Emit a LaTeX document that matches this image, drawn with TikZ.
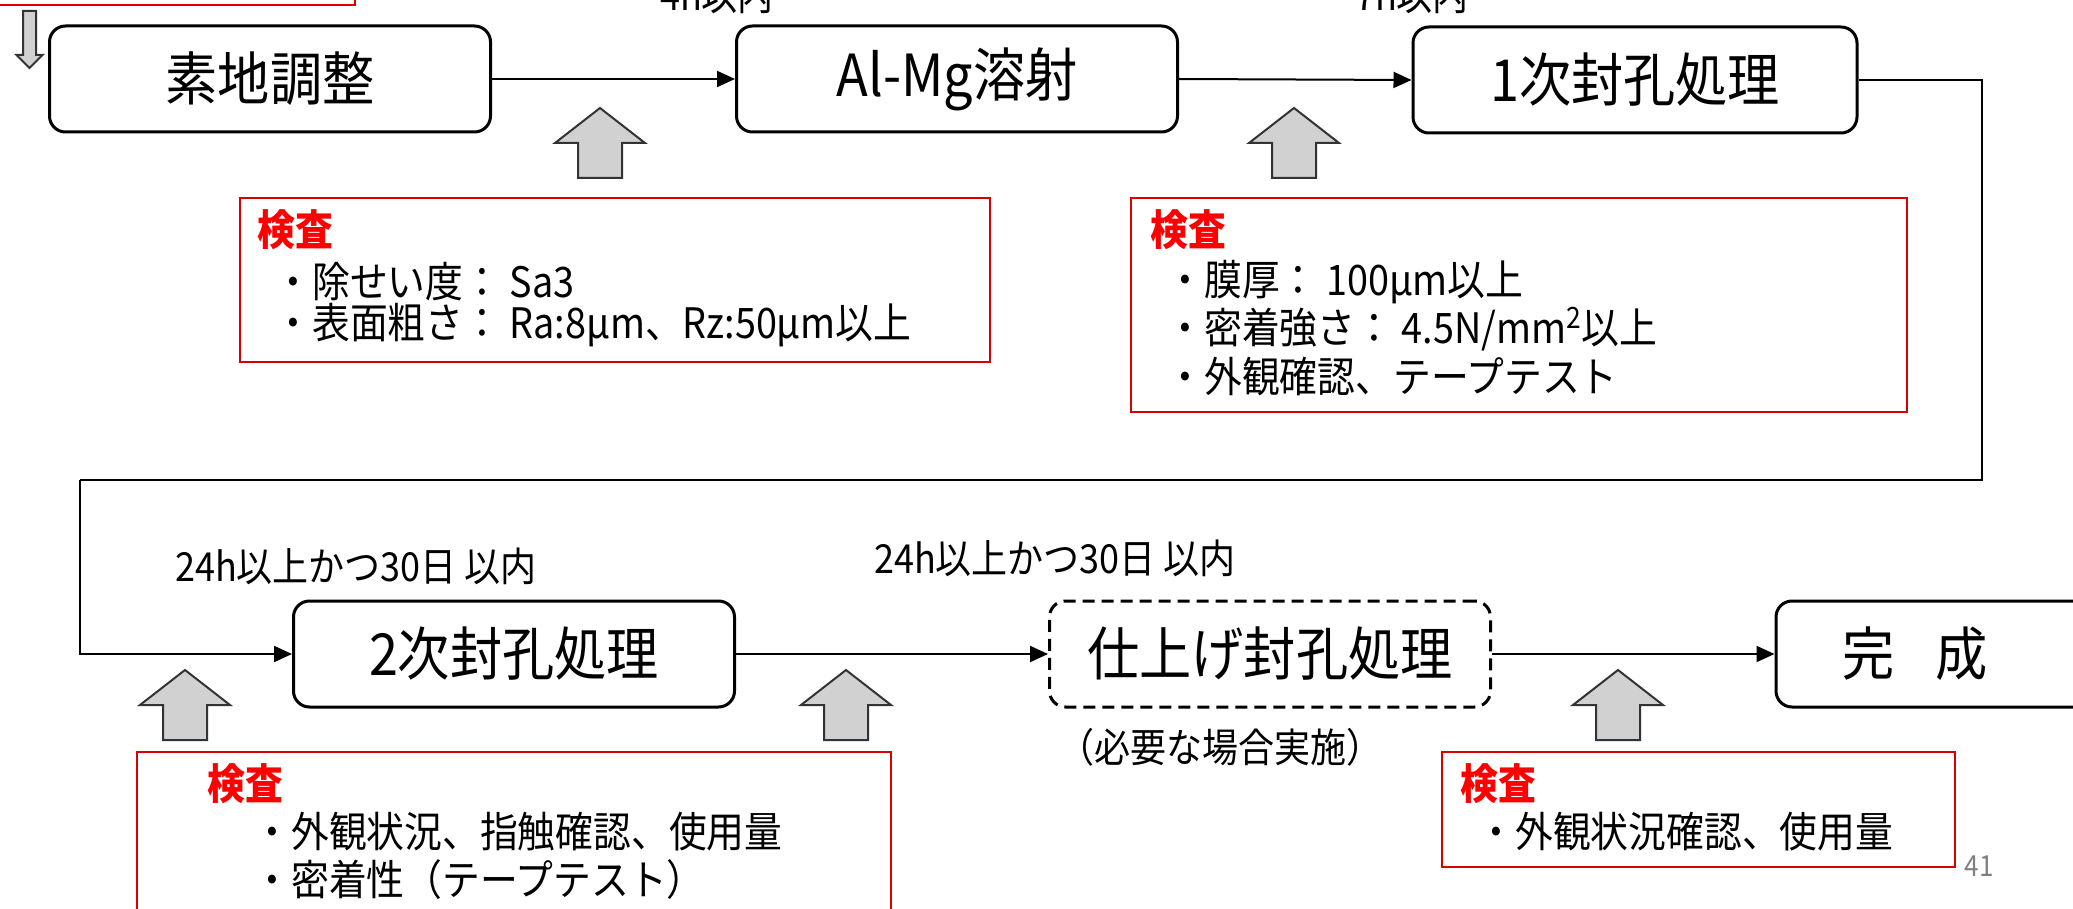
\documentclass[tikz,border=0pt]{standalone}
\usepackage{fontspec}
\setmainfont{Noto Sans CJK JP}[FakeStretch=0.9]
\usetikzlibrary{arrows.meta}
\tikzset{
  procbox/.style={draw, line width=1.5pt, rounded corners=8pt, minimum width=220.5pt, minimum height=53pt, font=\fontsize{29}{33}\selectfont, inner sep=0pt},
  dashbox/.style={procbox, dash pattern=on 6pt off 3.5pt},
  conn/.style={line width=1pt, -{Triangle[length=9pt,width=8pt]}},
  link/.style={line width=1pt},
  redbox/.style={draw=red!85!black, line width=1pt, inner sep=0pt, anchor=north west},
  insp/.style={anchor=west, text=red, font=\fontsize{21}{24}\selectfont\bfseries, inner sep=0pt},
  item/.style={anchor=west, font=\fontsize{21}{24}\selectfont, inner sep=0pt},
  note/.style={font=\fontsize{20}{24}\selectfont, inner sep=0pt},
  grayarrow/.style={fill=black!18, draw=black!80, line width=1pt},
  uparr/.pic={\path[grayarrow] (-22,70) -- (-22,35) -- (-45,35) -- (0,0) -- (45,35) -- (22,35) -- (22,70) -- cycle;},
}
\begin{document}
\begin{tikzpicture}[x=0.5pt,y=-0.5pt]
\useasboundingbox (0,0) rectangle (2073,909);
\clip (0,0) rectangle (2073,909);
\fill[white] (0,0) rectangle (2073,909);

% top-left partial red frame and small arrow
\node[redbox, minimum width=182pt, minimum height=32pt] (r0) at (-10,-60) {};
\path[grayarrow] (23,11) -- (23,55) -- (16.5,55) -- (29.5,68) -- (42.5,55) -- (36,55) -- (36,11) -- cycle;

% top labels (cut off by the page edge, as in the reference)
\node[note, anchor=base] (t1) at (717,11) {4h以内};
\node[note, anchor=base] (t2) at (1412,11) {7h以内};

% row 1 process boxes
\node[procbox] (b1) at (270,79) {素地調整};
\node[procbox] (b2) at (957,79) {Al-Mg溶射};
\node[procbox, minimum width=222pt] (b3) at (1635,80) {1次封孔処理};

\draw[conn] (b1.east) -- (b2.west);
\draw[conn] (b2.east) -- (b3.west);

% row 1 inspection arrows
\pic at (600,108) {uparr};
\pic at (1294,108) {uparr};

% inspection box 1
\node[redbox, minimum width=375pt, minimum height=82pt] (r1) at (239,197) {};
\node[insp] (r1h) at (257,230) {検査};
\node[item] (r1a) at (274,282) {・除せい度： Sa3};
\node[item] (r1b) at (274,325) {・表面粗さ： Ra:8μm、Rz:50μm以上};

% inspection box 2
\node[redbox, minimum width=388pt, minimum height=107pt] (r2) at (1130,197) {};
\node[insp] (r2h) at (1150,230) {検査};
\node[item] (r2a) at (1166,282) {・膜厚： 100μm以上};
\node[item] (r2b) at (1166,329) {・密着強さ： 4.5N/mm\textsuperscript{2}以上};
\node[item] (r2c) at (1166,377) {・外観確認、テープテスト};

% row 2 process boxes
\node[procbox] (b4) at (514,654) {2次封孔処理};
\node[dashbox] (b5) at (1270,654) {仕上げ封孔処理};
\node[procbox, minimum width=172pt] (b6) at (1948,654) {};
\node[font=\fontsize{29}{33}\selectfont, inner sep=0pt] (b6t) at (1915,654) {完\hspace{0.7em}成};

% long return connector
\coordinate (c1) at (1982,480);
\coordinate (c2) at (80,480);
\draw[link] (b3.east) -| (c1) -- (c2);
\draw[conn] (c2) |- (b4.west);
\draw[conn] (b4.east) -- (b5.west);
\draw[conn] (b5.east) -- (b6.west);

% row 2 labels
\node[note] (l1) at (356,566) {24h以上かつ30日 以内};
\node[note] (l2) at (1055,558) {24h以上かつ30日 以内};
\node[note] (l3) at (1220,747) {（必要な場合実施）};

% row 2 inspection arrows
\pic at (185,670) {uparr};
\pic at (846,670) {uparr};
\pic at (1618,670) {uparr};

% inspection box 3
\node[redbox, minimum width=377pt, minimum height=100pt] (r3) at (136,751) {};
\node[insp] (r3h) at (207,784) {検査};
\node[item] (r3a) at (253,832) {・外観状況、指触確認、使用量};
\node[item] (r3b) at (253,880) {・密着性（テープテスト）};

% inspection box 4
\node[redbox, minimum width=256.5pt, minimum height=57.5pt] (r4) at (1441,751) {};
\node[insp] (r4h) at (1460,784) {検査};
\node[item] (r4a) at (1477,832) {・外観状況確認、使用量};

% page number
\node[text=black!50, font=\fontsize{14.5}{16}\selectfont, inner sep=0pt] (pg) at (1979,866) {41};
\end{tikzpicture}
\end{document}
